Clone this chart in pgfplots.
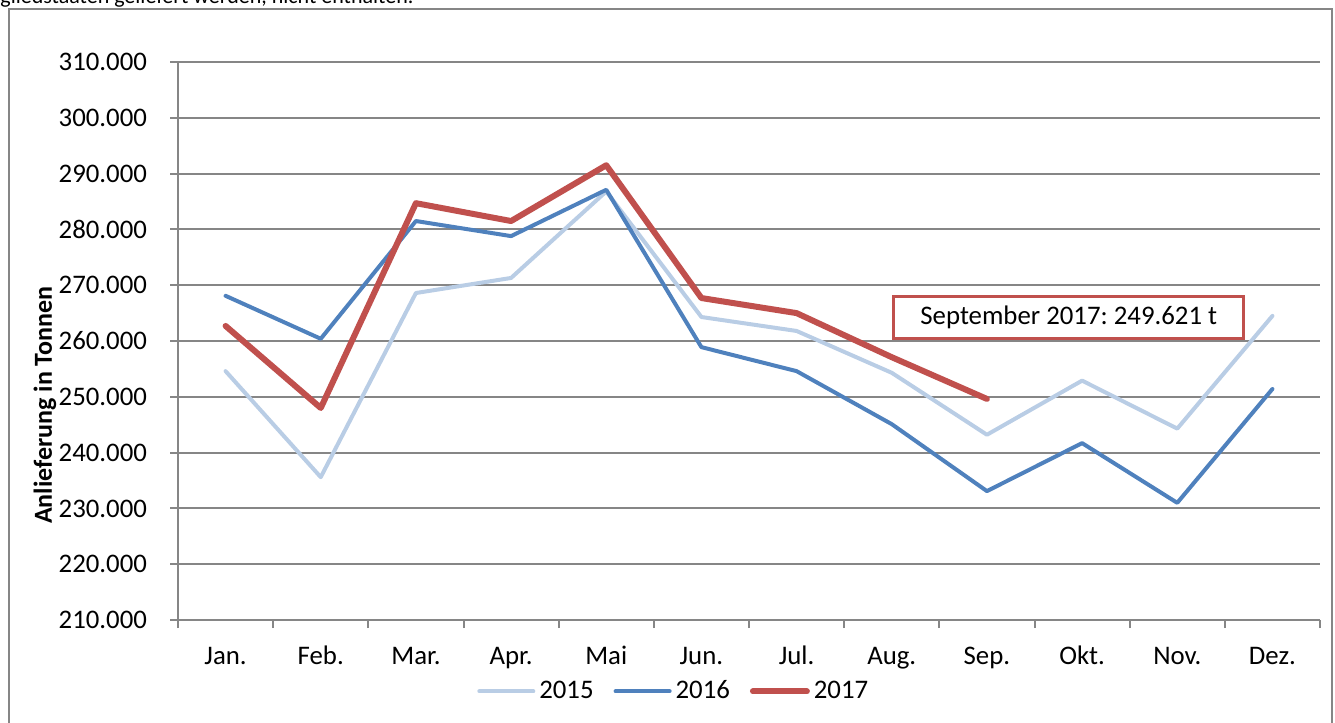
\documentclass[border=0pt]{standalone}
\usepackage{pgfplots}
\pgfplotsset{compat=1.18}
\usepackage{fontspec}
\setmainfont{Carlito}
\frenchspacing
\definecolor{c15}{HTML}{B9CDE5}
\definecolor{c16}{HTML}{4F81BD}
\definecolor{c17}{HTML}{C0504D}
\definecolor{gridgray}{HTML}{868686}
\begin{document}
\begin{tikzpicture}
\useasboundingbox (0,0) rectangle (667.5bp,-361.5bp);
\node[anchor=base west, inner sep=0pt, font=\fontsize{11bp}{13bp}\selectfont] at (0bp,-1.8bp) {gliedstaaten geliefert werden, nicht enthalten.};
\draw[gridgray, line width=1bp] (4.5bp,-370bp) -- (4.5bp,-4.5bp) -- (666bp,-4.5bp) -- (666bp,-370bp);
\begin{axis}[
  at={(89bp,-310bp)}, anchor=south west,
  scale only axis, width=571bp, height=279bp,
  xmin=-0.5, xmax=11.5, ymin=210000, ymax=310000,
  xtick={0,...,11},
  xticklabels={Jan.,Feb.,Mar.,Apr.,Mai,Jun.,Jul.,Aug.,Sep.,Okt.,Nov.,Dez.},
  minor xtick={-0.5,0.5,...,11.5},
  ytick={210000,220000,...,310000},
  scaled y ticks=false,
  /pgf/number format/fixed,
  /pgf/number format/1000 sep={.},
  /pgf/number format/assume math mode=true,
  tick align=outside, tick pos=left,
  major tick length=4bp, minor tick length=4bp,
  x tick style={draw=none},
  minor x tick style={draw=gridgray, line width=1bp},
  y tick style={draw=gridgray, line width=1bp},
  ymajorgrids, grid style={gridgray, line width=1bp},
  axis x line*=bottom, axis y line*=left,
  axis line style={gridgray, line width=1bp},
  separate axis lines,
  every outer x axis line/.append style={-},
  every outer y axis line/.append style={-},
  clip=false,
  ticklabel style={font=\fontsize{13.4bp}{15bp}\selectfont, text=black},
  xticklabel style={yshift=-6bp, text height=8.6bp, text depth=2.5bp},
  yticklabel style={xshift=-8bp},
  ylabel={\textbf{Anlieferung in Tonnen}},
  ylabel style={font=\fontsize{13bp}{15bp}\selectfont, at={(axis description cs:-0.1165,0.385)}, anchor=center, rotate=0},
  legend columns=3,
  legend style={draw=none, at={(axis description cs:0.435,-0.128)}, anchor=center, font=\fontsize{13.4bp}{15bp}\selectfont, /tikz/every even column/.append style={column sep=8bp}},
  legend image code/.code={\draw[#1] (0bp,0bp) -- (27bp,0bp);},
]
\addplot[c15, line width=2bp, line cap=round, line join=round] coordinates {
(0,254600) (1,235600) (2,268600) (3,271300) (4,286800) (5,264300) (6,261800) (7,254300) (8,243200) (9,252900) (10,244300) (11,264500)};
\addlegendentry{2015}
\addplot[c16, line width=2bp, line cap=round, line join=round] coordinates {
(0,268100) (1,260400) (2,281500) (3,278800) (4,287100) (5,258900) (6,254600) (7,245100) (8,233100) (9,241700) (10,231000) (11,251400)};
\addlegendentry{2016}
\addplot[c17, line width=3bp, line cap=round, line join=round] coordinates {
(0,262700) (1,248000) (2,284700) (3,281500) (4,291500) (5,267700) (6,265000) (7,257100) (8,249621)};
\addlegendentry{2017}
\node[draw=c17, line width=1.5bp, fill=white, minimum width=175bp, minimum height=21bp, inner sep=0pt, font=\fontsize{13.4bp}{15bp}\selectfont] at (rel axis cs:0.780,0.543) {September 2017: 249.621 t};
\end{axis}
\end{tikzpicture}
\end{document}
